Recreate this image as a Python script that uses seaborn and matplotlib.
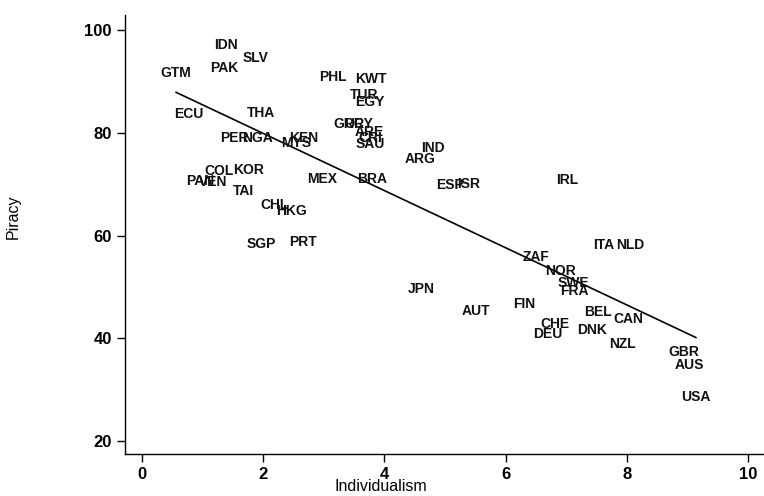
import pandas as pd
import matplotlib
matplotlib.use('Agg')
import matplotlib.pyplot as plt
import seaborn as sns

# Страны, индивидуализм и уровень пиратства
countries = ['IDN', 'SLV', 'PAK', 'GTM', 'PHL', 'KWT', 'TUR', 'EGY', 'ECU', 'THA',
             'GRC', 'URY', 'ARE', 'CRI', 'SAU', 'IND', 'ARG', 'PER', 'NGA', 'KEN',
             'MYS', 'COL', 'KOR', 'PAN', 'VEN', 'TAI', 'MEX', 'BRA', 'ESP', 'ISR',
             'IRL', 'CHL', 'HKG', 'SGP', 'PRT', 'ITA', 'NLD', 'ZAF', 'NOR', 'SWE',
             'FRA', 'JPN', 'FIN', 'AUT', 'BEL', 'CAN', 'CHE', 'DEU', 'DNK', 'NZL',
             'GBR', 'AUS', 'USA']
individualism = [1.39, 1.88, 1.35, 0.56, 3.15, 3.78, 3.66, 3.75, 0.78, 1.96,
                 3.42, 3.58, 3.75, 3.76, 3.76, 4.80, 4.59, 1.53, 1.90, 2.66,
                 2.54, 1.27, 1.75, 0.96, 1.17, 1.67, 2.97, 3.80, 5.08, 5.38,
                 7.01, 2.19, 2.46, 1.96, 2.66, 7.61, 8.05, 6.50, 6.91, 7.11,
                 7.13, 4.60, 6.30, 5.51, 7.52, 8.02, 6.81, 6.70, 7.43, 7.92,
                 8.93, 9.03, 9.14]
piracy = [97.1, 94.6, 92.6, 91.6, 90.9, 90.5, 87.4, 86.0, 83.7, 83.9,
          81.7, 81.7, 80.2, 79.0, 77.8, 77.0, 74.9, 79.0, 79.0, 79.0,
          78.0, 72.6, 72.8, 70.6, 70.4, 68.7, 71.0, 71.0, 69.8, 70.0,
          70.8, 66.0, 64.8, 58.4, 58.8, 58.2, 58.2, 55.8, 53.1, 50.8,
          49.2, 49.6, 46.7, 45.3, 45.1, 43.8, 42.8, 40.9, 41.6, 38.9,
          37.4, 34.8, 28.6]

df = pd.DataFrame({'country': countries, 'Individualism': individualism, 'Piracy': piracy})

sns.set_style('ticks')
plt.rcParams['font.family'] = ['Liberation Sans', 'DejaVu Sans']

fig = plt.figure(figsize=(7.64, 4.96), dpi=100)
ax = fig.add_axes([0.1636, 0.0847, 0.8364, 0.8851])

# Линия регрессии
sns.regplot(data=df, x='Individualism', y='Piracy', scatter=False, ci=None,
            truncate=True, color='black', line_kws={'linewidth': 1.2}, ax=ax)

# Подписи стран вместо точек
for _, row in df.iterrows():
    ax.text(row['Individualism'], row['Piracy'], row['country'], ha='center', va='center',
            fontsize=10, fontweight='bold', color='#111111')

ax.set_xlim(-0.28, 10.26)
ax.set_ylim(17.5, 102.9)
ax.set_xticks([0, 2, 4, 6, 8, 10])
ax.set_yticks([20, 40, 60, 80, 100])
ax.tick_params(labelsize=12, length=6, width=1, color='black', labelcolor='black')
for lab in ax.get_xticklabels() + ax.get_yticklabels():
    lab.set_fontweight('bold')
sns.despine(ax=ax)
for sp in ['left', 'bottom']:
    ax.spines[sp].set_color('black')
    ax.spines[sp].set_linewidth(1.0)

ax.set_xlabel('Individualism', fontsize=11.5, color='black')
ax.set_ylabel('Piracy', fontsize=11.5, color='black')
ax.xaxis.set_label_coords(0.40, -0.058)
ax.yaxis.set_label_coords(-0.163, 0.54)

fig.savefig('out.png', dpi=100)
